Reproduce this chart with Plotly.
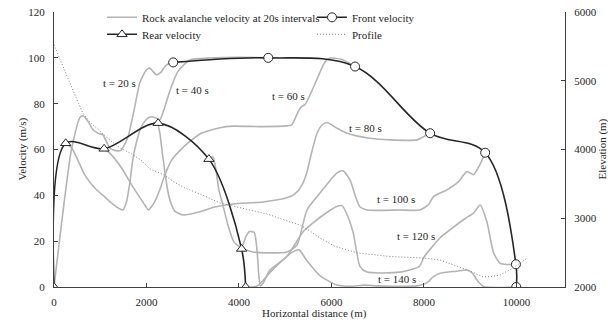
import plotly.graph_objects as go

# Velocity profiles along the slide body, sampled every 20 s
t20_x = [0, 376, 556, 628, 736, 844, 953, 1061, 1098, 1160, 1206, 1336, 1440, 1494, 1602, 1747, 1855, 2000, 2072, 2143, 2217, 2325, 2397, 2505, 2577]
t20_y = [0, 59.8, 73.8, 74.7, 72.2, 68.6, 67.1, 66.4, 64.9, 62.5, 60.6, 59.5, 59.5, 61.0, 65.6, 78.7, 89.0, 94.8, 95.5, 94.0, 92.6, 94.0, 96.2, 97.7, 98.0]

t40_x = [253, 383, 513, 665, 881, 1098, 1271, 1422, 1487, 1567, 1639, 1704, 1784, 1877, 1985, 2072, 2180, 2288, 2360, 2433, 2548, 2678, 2830, 2938, 3371, 4000, 4633]
t40_y = [62.7, 60.7, 55.5, 48.9, 43.2, 39.3, 36.2, 34.1, 33.6, 37.1, 45.4, 55.5, 63.3, 69.4, 72.9, 74.2, 74.0, 73.0, 76.4, 81.0, 88.0, 94.0, 97.4, 99.1, 99.9, 100.2, 100.0]

t60_x = [1083, 1200, 1466, 1639, 1819, 1963, 2040, 2110, 2180, 2288, 2397, 2548, 2721, 2938, 3154, 3587, 3868, 4500, 5037, 5140, 5283, 5356, 5427, 5536, 5681, 5824, 5897, 5968, 6200, 6400, 6510]
t60_y = [60.3, 58.5, 51.8, 45.9, 40.2, 35.8, 33.6, 35.1, 37.3, 42.4, 48.9, 55.5, 59.5, 63.5, 66.8, 69.5, 70.2, 70.0, 70.3, 70.7, 76.6, 78.7, 79.5, 83.8, 90.4, 96.9, 99.1, 99.9, 99.5, 97.5, 96.2]

t80_x = [2245, 2290, 2340, 2400, 2460, 2530, 2620, 2786, 3154, 3479, 3868, 4518, 5037, 5211, 5362, 5471, 5557, 5687, 5795, 5903, 6120, 6336, 6834, 7267, 7851, 7990, 8133]
t80_y = [71.5, 67.0, 59.0, 50.0, 42.0, 36.5, 33.0, 31.4, 32.8, 34.9, 36.2, 37.1, 38.9, 40.6, 44.5, 50.2, 57.6, 67.0, 70.7, 71.8, 69.3, 67.1, 64.9, 64.2, 64.2, 65.6, 67.1]

t100_x = [3349, 3436, 3501, 3566, 3652, 3760, 3890, 4020, 4302, 5037, 5254, 5471, 5752, 6120, 6250, 6401, 6509, 6618, 6769, 7483, 7916, 8100, 8205, 8495, 8750, 8928, 9071, 9200, 9323]
t100_y = [55.8, 56.8, 51.1, 42.4, 35.8, 27.1, 19.7, 17.5, 15.3, 15.3, 18.3, 33.6, 41.0, 49.8, 50.7, 46.7, 40.2, 34.9, 33.6, 33.6, 33.6, 36.0, 39.4, 42.4, 46.0, 50.4, 49.0, 53.0, 58.6]

t120_x = [4057, 4150, 4230, 4330, 4390, 4430, 4460, 4530, 4669, 5031, 5391, 5600, 5900, 6100, 6229, 6350, 6473, 6618, 6770, 7483, 7900, 8000, 8350, 8600, 8900, 9071, 9215, 9361, 9504, 9648, 9800, 9989]
t120_y = [16.6, 22.0, 24.2, 23.8, 16.0, 5.0, 0.5, 2.0, 7.4, 13.2, 24.2, 28.0, 32.5, 35.0, 35.5, 31.0, 23.4, 8.9, 6.5, 6.5, 9.0, 13.0, 21.5, 25.5, 30.0, 32.2, 35.8, 28.5, 15.0, 10.3, 9.8, 9.9]

t140_x = [4144, 4300, 4400, 4750, 5140, 5300, 5450, 5750, 6100, 6400, 6700, 7000, 7400, 7850, 8062, 8205, 8350, 8712, 8928, 9050, 9145, 9290, 9996]
t140_y = [0, 0, 0.5, 8.0, 15.0, 16.2, 12.0, 5.0, 1.0, 0.3, 0.8, 0.5, 0.3, 0.5, 1.8, 4.5, 6.0, 6.9, 7.4, 6.0, 3.1, 0.2, 0]

time_labels = ["t = 20 s", "t = 40 s", "t = 60 s", "t = 80 s", "t = 100 s", "t = 120 s", "t = 140 s"]
label_x = [1422, 2992, 5075, 6738, 7398, 7831, 7409]
label_y = [89.2, 86.0, 83.5, 69.3, 38.3, 22.3, 3.4]

# Front and rear of the avalanche at each 20 s step
front_x = [2577, 4633, 6510, 8134, 9324, 9989, 9996]
front_y = [98.0, 100.0, 96.2, 67.1, 58.6, 9.9, 0]
rear_x = [0, 253, 1083, 2252, 3349, 4057, 4144]
rear_y = [0, 62.7, 60.3, 71.5, 55.8, 16.6, 0]

# Terrain profile (elevation, right axis)
profile_x = [0, 123, 297, 470, 621, 773, 989, 1206, 1422, 1682, 1899, 2072, 2224, 2375, 2591, 2830, 3154, 3587, 4129, 4605, 5102, 5319, 5536, 5752, 6076, 6574, 7267, 7981, 8349, 8717, 8999, 9280, 9475, 9648, 9930, 10233]
profile_z = [5524, 5334, 5043, 4766, 4533, 4402, 4271, 4140, 4024, 3936, 3835, 3718, 3674, 3631, 3529, 3441, 3354, 3223, 3136, 3063, 2946, 2903, 2815, 2713, 2590, 2495, 2444, 2422, 2393, 2298, 2233, 2146, 2153, 2175, 2277, 2422]

GRAY = "#b4b4b4"
INK = "#262626"
FONT = "Liberation Serif"
W, H = 608, 322
PLOT_L, PLOT_R, PLOT_T, PLOT_B = 54, 565, 12, 287

fig = go.Figure()

series = [(t20_x, t20_y), (t40_x, t40_y), (t60_x, t60_y), (t80_x, t80_y),
          (t100_x, t100_y), (t120_x, t120_y), (t140_x, t140_y)]
for i, (sx, sy) in enumerate(series):
    fig.add_trace(go.Scatter(
        x=sx, y=sy, mode="lines",
        line=dict(color=GRAY, width=1.6, shape="spline", smoothing=0.6),
        name="Rock avalanche velocity at 20s intervals",
        showlegend=(i == 0), legend="legend",
    ))

fig.add_trace(go.Scatter(
    x=profile_x, y=profile_z, yaxis="y2", mode="lines",
    line=dict(color="#808080", width=1, dash="1px,2px"),
    name="Profile", legend="legend4",
))

fig.add_trace(go.Scatter(
    x=rear_x, y=rear_y, mode="lines+markers",
    line=dict(color=INK, width=1.6, shape="spline", smoothing=0.9),
    marker=dict(symbol="triangle-up", size=9, color="white", line=dict(color=INK, width=1)),
    name="Rear velocity", legend="legend3",
))

fig.add_trace(go.Scatter(
    x=front_x, y=front_y, mode="lines+markers",
    line=dict(color=INK, width=1.6, shape="spline", smoothing=1),
    marker=dict(symbol="circle", size=9, color="white", line=dict(color=INK, width=1)),
    name="Front velocity", legend="legend2",
))

for txt, lx, ly in zip(time_labels, label_x, label_y):
    fig.add_annotation(x=lx, y=ly, text=txt, showarrow=False,
                       font=dict(family=FONT, size=11, color=INK))

title_font = dict(family=FONT, size=11, color=INK)
# Axis titles, placed in figure coordinates
fig.add_annotation(text="Velocity (m/s)", xref="paper", yref="paper",
                   x=(22 - PLOT_L) / (PLOT_R - PLOT_L), y=0.5, textangle=-90,
                   showarrow=False, xanchor="center", yanchor="middle", font=title_font)
fig.add_annotation(text="Elevation (m)", xref="paper", yref="paper",
                   x=(602 - PLOT_L) / (PLOT_R - PLOT_L), y=0.5, textangle=-90,
                   showarrow=False, xanchor="center", yanchor="middle", font=title_font)
fig.add_annotation(text="Horizontal distance (m)", xref="paper", yref="paper",
                   x=(314 - PLOT_L) / (PLOT_R - PLOT_L),
                   y=(PLOT_B - 313) / (PLOT_B - PLOT_T),
                   showarrow=False, xanchor="center", yanchor="middle", font=title_font)

axis_common = dict(showline=True, linecolor="#404040", linewidth=1.3,
                   ticks="inside", ticklen=4, tickcolor="#404040",
                   showgrid=False, zeroline=False, automargin=False,
                   tickfont=dict(family=FONT, size=11, color=INK))


def px_to_paper(px, py):
    return (px - PLOT_L) / (PLOT_R - PLOT_L), (PLOT_B - py) / (PLOT_B - PLOT_T)


legend_common = dict(xanchor="left", yanchor="middle", bgcolor="rgba(0,0,0,0)",
                     borderwidth=0, tracegroupgap=0,
                     font=dict(family=FONT, size=11, color=INK))

lx1, ly1 = px_to_paper(102, 17.3)
lx2, ly2 = px_to_paper(312, 34.3)

fig.update_layout(
    width=W, height=H,
    margin=dict(l=PLOT_L, r=W - PLOT_R, t=PLOT_T, b=H - PLOT_B, autoexpand=False),
    paper_bgcolor="white", plot_bgcolor="white",
    font=dict(family=FONT, size=11, color=INK),
    xaxis=dict(range=[0, 11050], tickvals=[0, 2000, 4000, 6000, 8000, 10000],
               ticktext=["0", "2000", "4000", "6000", "8000", "10000"],
               ticklabelstandoff=5, **axis_common),
    yaxis=dict(range=[0, 120], dtick=20, ticklabelstandoff=6, **axis_common),
    yaxis2=dict(range=[2000, 6000], dtick=1000, overlaying="y", side="right",
                ticklabelstandoff=6, **axis_common),
    legend=dict(x=lx1, y=ly1, **legend_common),
    legend2=dict(x=lx2, y=ly1, **legend_common),
    legend3=dict(x=lx1, y=ly2, **legend_common),
    legend4=dict(x=lx2, y=ly2, **legend_common),
    showlegend=True,
)

fig.write_html("out.html")
